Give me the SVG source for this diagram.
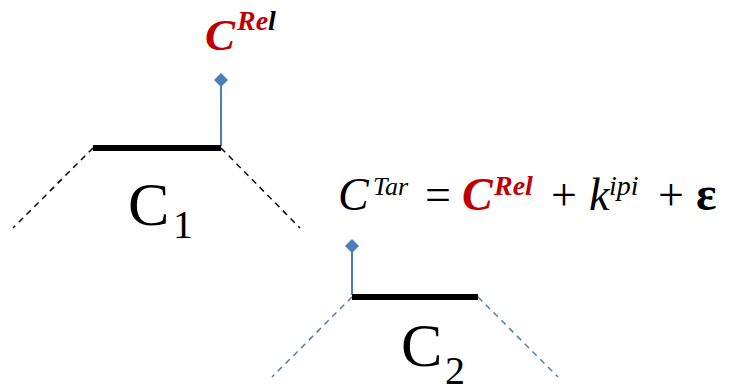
<svg xmlns="http://www.w3.org/2000/svg" width="734" height="384" viewBox="0 0 734 384">
<defs>
<path id="dia" d="M0 -7 L7 0 L0 7 L-7 0 Z" fill="#4a7ebb"/>
</defs>
<rect width="734" height="384" fill="#fff"/>
<g id="connectors" fill="none" stroke-width="1.5" stroke-dasharray="6,5">
<line stroke="#000" x1="93" y1="148" x2="13" y2="228"/>
<line stroke="#000" x1="221" y1="148" x2="300" y2="228"/>
<line stroke="#4a7ebb" x1="352" y1="297" x2="272" y2="377"/>
<line stroke="#4a7ebb" x1="478" y1="297" x2="558" y2="377"/>
<line stroke="#4a7ebb" stroke-width="2" stroke-dasharray="none" x1="221" y1="80" x2="221" y2="146"/>
<line stroke="#4a7ebb" stroke-width="2" stroke-dasharray="none" x1="352" y1="246" x2="352" y2="295"/>
<use href="#dia" x="221" y="80"/>
<use href="#dia" x="352" y="246"/>
</g>
<g id="c1">
<line stroke="#000" stroke-width="6" x1="93" y1="148" x2="221" y2="148"/>
<text font-family="Times New Roman, Liberation Serif, serif" x="128" y="225" font-size="62">C</text>
<text font-family="Times New Roman, Liberation Serif, serif" x="173" y="238" font-size="40">1</text>
</g>
<g id="c2">
<line stroke="#000" stroke-width="6" x1="352" y1="297" x2="478" y2="297"/>
<text font-family="Times New Roman, Liberation Serif, serif" x="401" y="366" font-size="62">C</text>
<text font-family="Times New Roman, Liberation Serif, serif" x="445" y="384" font-size="40">2</text>
</g>
<g id="crel">
<text font-family="Times New Roman, Liberation Serif, serif" x="205" y="50" font-size="45" font-weight="bold" font-style="italic" fill="#c00000">C</text>
<text font-family="Times New Roman, Liberation Serif, serif" x="237" y="30" font-size="28" font-weight="bold" font-style="italic" fill="#c00000">Re<tspan fill="#000">l</tspan></text>
</g>
<g id="formula">
<text font-family="Times New Roman, Liberation Serif, serif" x="338" y="210" font-size="46" font-style="italic">C</text>
<text font-family="Times New Roman, Liberation Serif, serif" x="373" y="195" font-size="26" font-style="italic">Tar</text>
<text font-family="Times New Roman, Liberation Serif, serif" x="425" y="210" font-size="46">=</text>
<text font-family="Times New Roman, Liberation Serif, serif" x="462" y="210" font-size="46" font-weight="bold" font-style="italic" fill="#c00000">C</text>
<text font-family="Times New Roman, Liberation Serif, serif" x="494" y="195" font-size="28" font-weight="bold" font-style="italic" fill="#c00000">Rel</text>
<text font-family="Times New Roman, Liberation Serif, serif" x="551" y="210" font-size="46">+</text>
<text font-family="Times New Roman, Liberation Serif, serif" x="589" y="210" font-size="46" font-style="italic">k</text>
<text font-family="Times New Roman, Liberation Serif, serif" x="609" y="195" font-size="28" font-style="italic">ipi</text>
<text font-family="Times New Roman, Liberation Serif, serif" x="658" y="210" font-size="46">+</text>
<text font-family="Times New Roman, Liberation Serif, serif" x="696" y="210" font-size="48" font-weight="bold">&#949;</text>
</g>
</svg>
